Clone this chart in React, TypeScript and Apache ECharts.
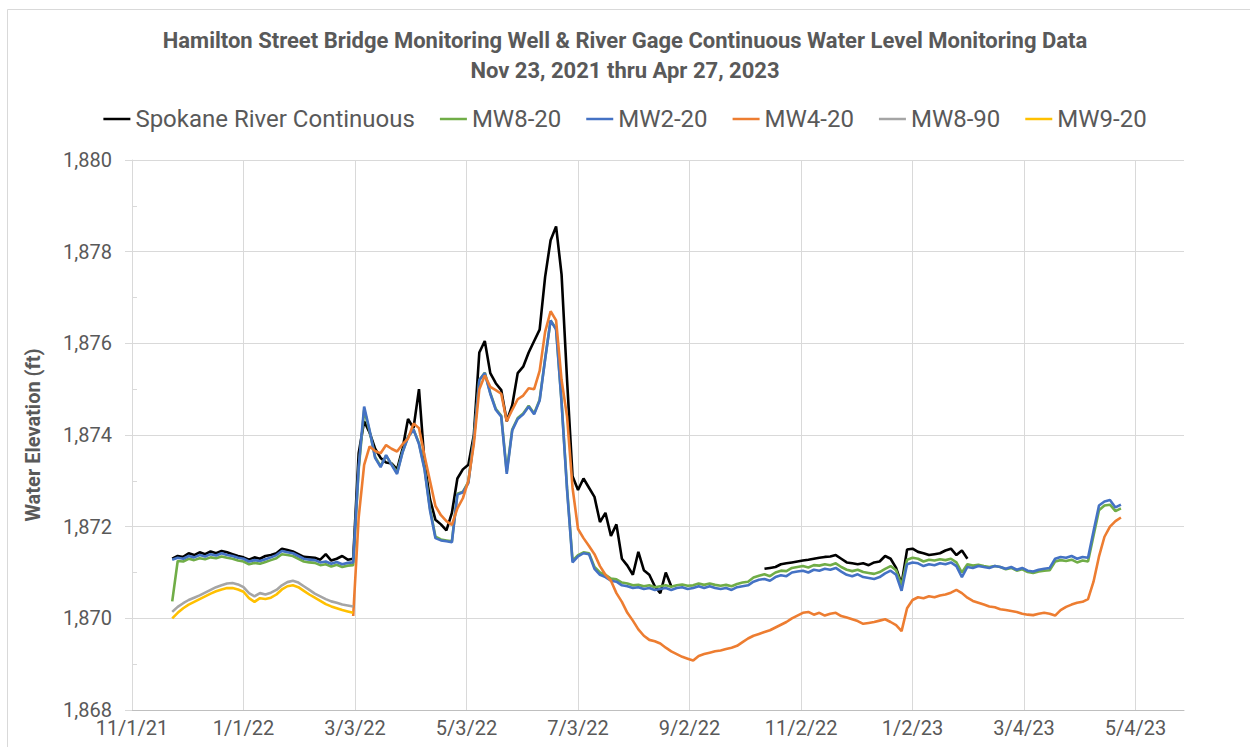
import React, { useEffect, useRef } from "react";
import * as echarts from "echarts";

// ---- Axis definitions ----
const AXIS_ORIGIN = "2021-11-01"; // first date tick
const TICK_DAYS = 61;             // Excel major unit (days)
const AXIS_MAX_DAYS = 575.5;      // right edge of plot area
const Y_MIN = 1868;
const Y_MAX = 1880;
const Y_STEP = 2;
const STEP_DAYS = 3;              // sampling step of the value arrays below

const TITLE_LINE_1 = "Hamilton Street Bridge Monitoring Well & River Gage Continuous Water Level Monitoring Data";
const TITLE_LINE_2 = "Nov 23, 2021 thru Apr 27, 2023";
const Y_TITLE = "Water Elevation (ft)";

// ---- Series values (ft), sampled every STEP_DAYS from each start date ----
const spokaneStart = "2021-11-23";
const spokaneRiver = [
  1871.30, 1871.36, 1871.34, 1871.42, 1871.38, 1871.44, 1871.40, 1871.46, 1871.42, 1871.47,
  1871.44, 1871.40, 1871.36, 1871.33, 1871.28, 1871.33, 1871.30, 1871.36, 1871.38, 1871.42,
  1871.52, 1871.49, 1871.46, 1871.40, 1871.34, 1871.33, 1871.32, 1871.28, 1871.40, 1871.26,
  1871.30, 1871.36, 1871.28, 1871.30, 1873.60, 1874.30, 1874.05, 1873.70, 1873.50, 1873.40,
  1873.38, 1873.25, 1873.70, 1874.35, 1874.15, 1875.00, 1873.40, 1872.60, 1872.15, 1872.05,
  1871.92, 1872.30, 1873.05, 1873.25, 1873.35, 1874.00, 1875.80, 1876.05, 1875.35, 1875.13,
  1874.98, 1874.30, 1874.65, 1875.35, 1875.49, 1875.80, 1876.05, 1876.30, 1877.45, 1878.25,
  1878.55, 1877.50, 1875.20, 1873.10, 1872.80, 1873.05, 1872.85, 1872.65, 1872.10, 1872.30,
  1871.80, 1872.05, 1871.30, 1871.15, 1870.95, 1871.45, 1871.05, 1870.95, 1870.70, 1870.55,
  1871.00, 1870.70, null, null, null, null, null, null, null, null,
  null, null, null, null, null, null, null, null, 1871.08, 1871.10,
  1871.12, 1871.18, 1871.20, 1871.22, 1871.24, 1871.26, 1871.28, 1871.30, 1871.32, 1871.34,
  1871.35, 1871.38, 1871.30, 1871.22, 1871.20, 1871.18, 1871.20, 1871.16, 1871.22, 1871.24,
  1871.36, 1871.30, 1871.10, 1870.75, 1871.50, 1871.52, 1871.45, 1871.42, 1871.38, 1871.40,
  1871.42, 1871.48, 1871.52, 1871.38, 1871.48, 1871.30,
];

const mw820Start = "2021-11-23";
const mw820 = [
  1870.37, 1871.25, 1871.24, 1871.30, 1871.27, 1871.31, 1871.29, 1871.33, 1871.31, 1871.35,
  1871.32, 1871.30, 1871.26, 1871.24, 1871.18, 1871.21, 1871.19, 1871.23, 1871.27, 1871.31,
  1871.40, 1871.38, 1871.36, 1871.30, 1871.24, 1871.22, 1871.21, 1871.16, 1871.18, 1871.13,
  1871.17, 1871.12, 1871.15, 1871.16, 1873.25, 1874.55, 1874.08, 1873.52, 1873.32, 1873.55,
  1873.36, 1873.18, 1873.63, 1873.96, 1874.12, 1873.82, 1873.28, 1872.40, 1871.78, 1871.72,
  1871.70, 1871.68, 1872.72, 1872.76, 1872.98, 1873.92, 1875.20, 1875.36, 1874.92, 1874.57,
  1874.42, 1873.20, 1874.12, 1874.37, 1874.47, 1874.64, 1874.47, 1874.77, 1875.66, 1876.50,
  1876.32, 1874.72, 1872.84, 1871.26, 1871.38, 1871.44, 1871.42, 1871.12, 1871.00, 1870.95,
  1870.87, 1870.85, 1870.78, 1870.76, 1870.72, 1870.73, 1870.70, 1870.72, 1870.68, 1870.70,
  1870.72, 1870.69, 1870.72, 1870.74, 1870.71, 1870.72, 1870.76, 1870.73, 1870.76, 1870.73,
  1870.71, 1870.73, 1870.70, 1870.75, 1870.78, 1870.80, 1870.89, 1870.93, 1870.96, 1870.92,
  1871.00, 1871.04, 1871.03, 1871.10, 1871.12, 1871.14, 1871.11, 1871.16, 1871.15, 1871.18,
  1871.16, 1871.20, 1871.12, 1871.06, 1871.03, 1871.06, 1871.01, 1870.99, 1870.97, 1871.01,
  1871.08, 1871.14, 1871.05, 1870.72, 1871.28, 1871.32, 1871.30, 1871.24, 1871.28, 1871.26,
  1871.29, 1871.27, 1871.30, 1871.22, 1871.00, 1871.18, 1871.15, 1871.17, 1871.14, 1871.12,
  1871.14, 1871.12, 1871.07, 1871.10, 1871.04, 1871.07, 1871.01, 1870.99, 1871.02, 1871.04,
  1871.05, 1871.24, 1871.27, 1871.25, 1871.28, 1871.22, 1871.26, 1871.24, 1871.80, 1872.36,
  1872.46, 1872.48, 1872.34, 1872.40,
];

const mw220Start = "2021-11-23";
const mw220 = [
  1871.28, 1871.32, 1871.30, 1871.36, 1871.33, 1871.38, 1871.35, 1871.40, 1871.37, 1871.42,
  1871.38, 1871.36, 1871.32, 1871.30, 1871.24, 1871.27, 1871.25, 1871.29, 1871.33, 1871.38,
  1871.47, 1871.44, 1871.42, 1871.36, 1871.30, 1871.28, 1871.27, 1871.22, 1871.24, 1871.19,
  1871.23, 1871.18, 1871.21, 1871.22, 1873.30, 1874.62, 1874.10, 1873.50, 1873.30, 1873.56,
  1873.35, 1873.15, 1873.62, 1873.95, 1874.12, 1873.80, 1873.25, 1872.36, 1871.75, 1871.70,
  1871.68, 1871.66, 1872.70, 1872.75, 1872.95, 1873.90, 1875.20, 1875.35, 1874.90, 1874.55,
  1874.40, 1873.15, 1874.10, 1874.35, 1874.45, 1874.62, 1874.45, 1874.75, 1875.65, 1876.50,
  1876.30, 1874.70, 1872.80, 1871.22, 1871.35, 1871.42, 1871.40, 1871.08, 1870.95, 1870.90,
  1870.82, 1870.80, 1870.72, 1870.70, 1870.66, 1870.68, 1870.64, 1870.66, 1870.62, 1870.64,
  1870.66, 1870.62, 1870.66, 1870.68, 1870.64, 1870.66, 1870.70, 1870.66, 1870.70, 1870.66,
  1870.64, 1870.66, 1870.62, 1870.68, 1870.70, 1870.72, 1870.80, 1870.84, 1870.86, 1870.82,
  1870.90, 1870.94, 1870.92, 1871.00, 1871.02, 1871.04, 1871.00, 1871.06, 1871.04, 1871.08,
  1871.06, 1871.10, 1871.02, 1870.95, 1870.92, 1870.96, 1870.90, 1870.88, 1870.86, 1870.90,
  1870.98, 1871.04, 1870.95, 1870.60, 1871.18, 1871.22, 1871.20, 1871.14, 1871.18, 1871.16,
  1871.20, 1871.18, 1871.22, 1871.14, 1870.90, 1871.12, 1871.10, 1871.14, 1871.12, 1871.10,
  1871.14, 1871.12, 1871.08, 1871.12, 1871.06, 1871.10, 1871.04, 1871.02, 1871.06, 1871.08,
  1871.10, 1871.30, 1871.34, 1871.32, 1871.36, 1871.30, 1871.34, 1871.32, 1871.90, 1872.46,
  1872.55, 1872.58, 1872.42, 1872.48,
];

const mw420Start = "2022-03-02";
const mw420 = [
  1870.05, 1872.20, 1873.35, 1873.75, 1873.65, 1873.60, 1873.78, 1873.70, 1873.64, 1873.80,
  1873.92, 1874.25, 1874.15, 1873.55, 1873.00, 1872.45, 1872.25, 1872.12, 1872.04, 1872.40,
  1872.62, 1873.00, 1873.80, 1875.00, 1875.30, 1875.05, 1874.98, 1874.90, 1874.30, 1874.55,
  1874.78, 1874.86, 1875.02, 1875.00, 1875.40, 1876.25, 1876.70, 1876.50, 1875.20, 1874.40,
  1872.85, 1871.95, 1871.75, 1871.58, 1871.40, 1871.14, 1870.95, 1870.82, 1870.55, 1870.36,
  1870.12, 1869.95, 1869.76, 1869.62, 1869.53, 1869.50, 1869.45, 1869.36, 1869.28, 1869.22,
  1869.16, 1869.12, 1869.08, 1869.18, 1869.22, 1869.25, 1869.28, 1869.30, 1869.33, 1869.36,
  1869.40, 1869.48, 1869.56, 1869.62, 1869.66, 1869.70, 1869.74, 1869.80, 1869.86, 1869.92,
  1870.00, 1870.06, 1870.12, 1870.14, 1870.08, 1870.12, 1870.06, 1870.10, 1870.12, 1870.05,
  1870.02, 1869.98, 1869.94, 1869.88, 1869.90, 1869.92, 1869.95, 1869.98, 1869.92, 1869.85,
  1869.72, 1870.22, 1870.40, 1870.46, 1870.44, 1870.48, 1870.46, 1870.50, 1870.52, 1870.56,
  1870.62, 1870.55, 1870.45, 1870.38, 1870.34, 1870.30, 1870.26, 1870.24, 1870.20, 1870.18,
  1870.16, 1870.14, 1870.10, 1870.08, 1870.07, 1870.10, 1870.12, 1870.10, 1870.06, 1870.18,
  1870.25, 1870.30, 1870.34, 1870.36, 1870.42, 1870.80, 1871.35, 1871.78, 1872.00, 1872.12,
  1872.20,
];

const mw890Start = "2021-11-23";
const mw890 = [
  1870.14, 1870.25, 1870.33, 1870.40, 1870.45, 1870.50, 1870.56, 1870.62, 1870.68, 1870.72,
  1870.76, 1870.77, 1870.74, 1870.68, 1870.55, 1870.48, 1870.55, 1870.52, 1870.56, 1870.62,
  1870.72, 1870.79, 1870.82, 1870.78, 1870.70, 1870.62, 1870.54, 1870.48, 1870.42, 1870.37,
  1870.34, 1870.30, 1870.28, 1870.26,
];

const mw920Start = "2021-11-23";
const mw920 = [
  1870.00, 1870.12, 1870.22, 1870.30, 1870.36, 1870.42, 1870.48, 1870.54, 1870.59, 1870.63,
  1870.66, 1870.66, 1870.63, 1870.58, 1870.44, 1870.36, 1870.44, 1870.42, 1870.45, 1870.52,
  1870.63, 1870.70, 1870.72, 1870.68, 1870.60, 1870.52, 1870.45, 1870.38, 1870.31, 1870.26,
  1870.22, 1870.18, 1870.15, 1870.12,
];

const SERIES_NAMES = ["Spokane River Continuous", "MW8-20", "MW2-20", "MW4-20", "MW8-90", "MW9-20"];
const SERIES_COLORS = ["#000000", "#70AD47", "#4472C4", "#ED7D31", "#A5A5A5", "#FFC000"];

const DAY_MS = 86400000;
const toUTC = (iso: string) => {
  const [y, m, d] = iso.split("-").map(Number);
  return Date.UTC(y, m - 1, d);
};
const ORIGIN_MS = toUTC(AXIS_ORIGIN);
const dayOf = (iso: string) => (toUTC(iso) - ORIGIN_MS) / DAY_MS;
const toPairs = (start: string, values: (number | null)[]) => {
  const d0 = dayOf(start);
  return values.map((v, i) => [d0 + i * STEP_DAYS, v]);
};
const fmtDate = (v: number) => {
  const dt = new Date(ORIGIN_MS + Math.round(v) * DAY_MS);
  return `${dt.getUTCMonth() + 1}/${dt.getUTCDate()}/${String(dt.getUTCFullYear()).slice(2)}`;
};

const FONT = "Roboto, 'Noto Sans', sans-serif";
const TEXT_COLOR = "#595959";

export default function App() {
  const ref = useRef<HTMLDivElement>(null);
  useEffect(() => {
    if (!ref.current) return;
    const chart = echarts.init(ref.current, undefined, { renderer: "svg" });
    const datasets = [
      toPairs(spokaneStart, spokaneRiver),
      toPairs(mw820Start, mw820),
      toPairs(mw220Start, mw220),
      toPairs(mw420Start, mw420),
      toPairs(mw890Start, mw890),
      toPairs(mw920Start, mw920),
    ];
    chart.setOption({
      animation: false,
      backgroundColor: "#ffffff",
      textStyle: { fontFamily: FONT },
      title: {
        text: TITLE_LINE_1 + "\n" + TITLE_LINE_2,
        left: "center",
        top: 20,
        textStyle: {
          fontFamily: FONT,
          fontSize: 22,
          fontWeight: "bold",
          color: TEXT_COLOR,
          lineHeight: 30,
        },
      },
      legend: {
        data: SERIES_NAMES,
        top: 102,
        left: "center",
        icon: "rect",
        itemWidth: 27,
        itemHeight: 2.5,
        itemGap: 25,
        textStyle: { fontFamily: FONT, fontSize: 24, color: TEXT_COLOR },
      },
      graphic: [
        {
          type: "rect",
          shape: { x: 7.5, y: 9.5, width: 1300, height: 800 },
          style: { fill: "none", stroke: "#d9d9d9", lineWidth: 1 },
          silent: true,
        },
        {
          type: "text",
          x: 33,
          y: 435,
          rotation: Math.PI / 2,
          style: {
            text: Y_TITLE,
            fontFamily: FONT,
            fontSize: 20,
            fontWeight: "bold",
            fill: TEXT_COLOR,
            align: "center",
            verticalAlign: "middle",
          },
        },
      ],
      grid: { left: 132, right: 66, top: 160, bottom: 37, containLabel: false },
      xAxis: {
        type: "value",
        min: 0,
        max: AXIS_MAX_DAYS,
        interval: TICK_DAYS,
        axisLine: { show: true, onZero: false, lineStyle: { color: "#bfbfbf", width: 1 } },
        axisTick: { show: false },
        axisLabel: {
          formatter: (v: number) => fmtDate(v),
          fontFamily: FONT,
          fontSize: 20,
          color: TEXT_COLOR,
          margin: 8,
          showMaxLabel: false,
        },
        splitLine: { show: true, showMaxLine: false, lineStyle: { color: "#d9d9d9", width: 1 } },
      },
      yAxis: {
        type: "value",
        min: Y_MIN,
        max: Y_MAX,
        interval: Y_STEP,
        axisLine: { show: true, lineStyle: { color: "#d9d9d9", width: 1 } },
        axisTick: { show: true, length: 7, lineStyle: { color: "#d9d9d9" } },
        minorTick: { show: true, splitNumber: 2, length: -5, lineStyle: { color: "#d9d9d9" } },
        axisLabel: {
          formatter: (v: number) => v.toLocaleString("en-US"),
          fontFamily: FONT,
          fontSize: 20,
          color: TEXT_COLOR,
          margin: 20,
        },
        splitLine: { show: true, lineStyle: { color: "#d9d9d9", width: 1 } },
      },
      series: SERIES_NAMES.map((name, i) => ({
        name,
        type: "line",
        data: datasets[i],
        showSymbol: false,
        symbol: "none",
        connectNulls: false,
        color: SERIES_COLORS[i],
        lineStyle: { color: SERIES_COLORS[i], width: 2.6 },
        z: 2 + i,
      })),
    });
    return () => chart.dispose();
  }, []);
  return (
    <div
      ref={ref}
      style={{ position: "fixed", left: 0, top: 0, width: 1250, height: 747, background: "#fff" }}
    />
  );
}
